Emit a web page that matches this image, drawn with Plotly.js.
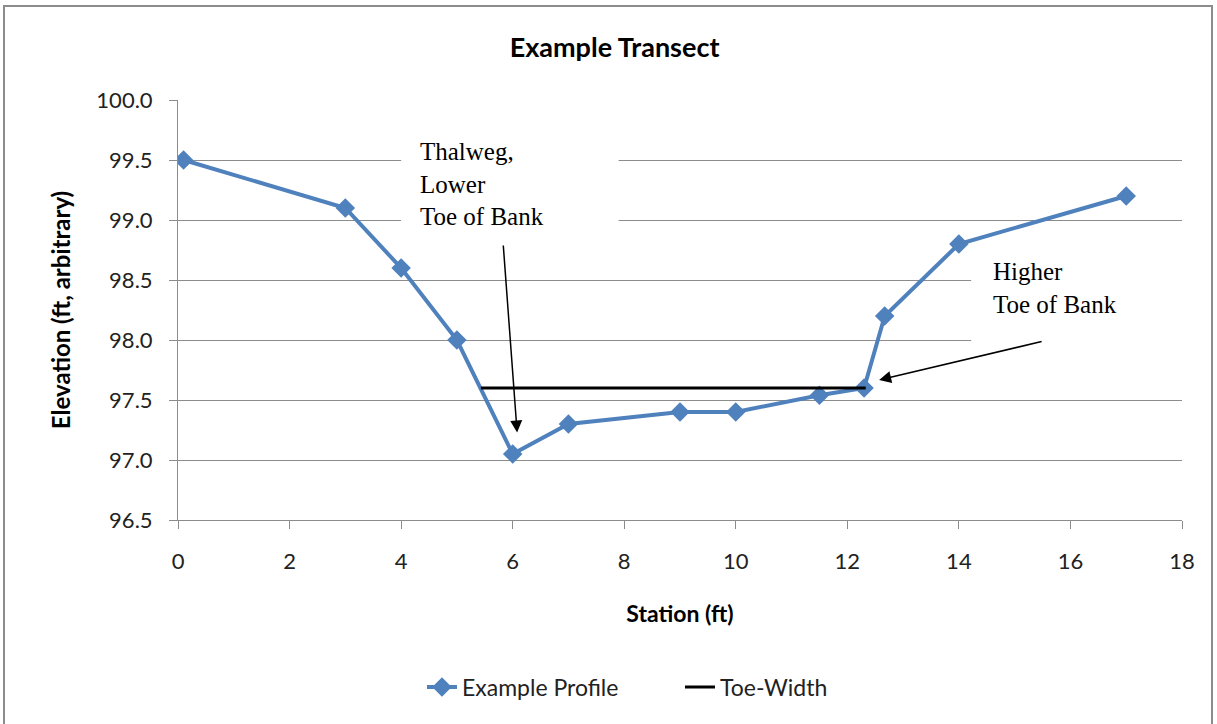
<!DOCTYPE html>
<html>
<head>
<meta charset="utf-8">
<script src="https://cdn.plot.ly/plotly-3.0.1.min.js"></script>
<style>
html,body{margin:0;padding:0;background:#fff;}
#wrap{position:relative;width:1217px;height:724px;overflow:hidden;}
#chart{width:1217px;height:724px;}
#frame{position:absolute;left:3px;top:5px;width:1206px;height:740px;border:2px solid #8c8c8c;pointer-events:none;}
</style>
</head>
<body>
<div id="wrap"><div id="chart"></div><div id="frame"></div></div>
<script>
// Data
const station   = [0.1, 3, 4, 5, 6, 7, 9, 10, 11.5, 12.3, 12.67, 14, 17];
const elevation = [99.5, 99.1, 98.6, 98.0, 97.05, 97.3, 97.4, 97.4, 97.54, 97.6, 98.2, 98.8, 99.2];
const toeStation   = [5.43, 12.33];
const toeElevation = [97.6, 97.6];
const xTicks = [0, 2, 4, 6, 8, 10, 12, 14, 16, 18];
const yTicks = [96.5, 97.0, 97.5, 98.0, 98.5, 99.0, 99.5, 100.0];

const sans = 'Lato, "Open Sans", sans-serif';
const serif = '"Liberation Serif", "Times New Roman", serif';

const traces = [
  {
    x: station, y: elevation, name: 'Example Profile', type: 'scatter', mode: 'lines+markers',
    line: {color: '#4F81BD', width: 4},
    marker: {symbol: 'diamond', size: 15, color: '#4F81BD'}
  },
  {
    x: toeStation, y: toeElevation, name: 'Toe-Width', type: 'scatter', mode: 'lines',
    line: {color: '#000000', width: 3}
  }
];

const layout = {
  width: 1217, height: 724,
  margin: {l: 178, r: 35, t: 100, b: 204},
  paper_bgcolor: '#fff', plot_bgcolor: '#fff',
  showlegend: true,
  title: {text: '<b>Example Transect</b>', font: {family: sans, size: 27, color: '#000'}, x: 0.505, xanchor: 'center', y: 0.934, yanchor: 'middle'},
  xaxis: {
    range: [0, 18], tickvals: xTicks, ticktext: xTicks.map(String),
    showgrid: false, zeroline: false, showline: true, linecolor: '#8c8c8c', linewidth: 1,
    ticks: 'outside', ticklen: 8, tickcolor: '#8c8c8c', ticklabelstandoff: 14,
    tickfont: {family: sans, size: 22, color: '#222'},
    title: {text: '<b>Station (ft)</b>', font: {family: sans, size: 23, color: '#000'}, standoff: 32}
  },
  yaxis: {
    range: [96.5, 100.0], tickvals: yTicks, ticktext: yTicks.map(v => v.toFixed(1)),
    showgrid: true, gridcolor: '#8c8c8c', gridwidth: 1, zeroline: false,
    showline: true, linecolor: '#8c8c8c', linewidth: 1,
    ticks: 'outside', ticklen: 8, tickcolor: '#8c8c8c', ticklabelstandoff: 12,
    tickfont: {family: sans, size: 22, color: '#222'},
    title: {text: '<b>Elevation (ft, arbitrary)</b>', font: {family: sans, size: 24, color: '#000'}, standoff: 18}
  },
  legend: {
    orientation: 'h', x: 0.243, xanchor: 'left', y: -0.398, yanchor: 'middle',
    entrywidth: 213, entrywidthmode: 'pixels',
    font: {family: sans, size: 23, color: '#222'}, bgcolor: 'rgba(0,0,0,0)'
  },
  shapes: [
    {type: 'rect', xref: 'x', yref: 'y', x0: 4.0, x1: 7.9, y0: 98.875, y1: 99.75, fillcolor: '#fff', line: {width: 0}, layer: 'between'},
    {type: 'rect', xref: 'x', yref: 'y', x0: 14.22, x1: 18.0, y0: 97.9, y1: 98.875, fillcolor: '#fff', line: {width: 0}, layer: 'between'}
  ],
  annotations: [
    {xref: 'x', yref: 'y', x: 4.3, y: 99.7, xanchor: 'left', yanchor: 'top', align: 'left', showarrow: false,
     text: 'Thalweg,<br>Lower<br>Toe of Bank', font: {family: serif, size: 25, color: '#000'}},
    {xref: 'x', yref: 'y', x: 14.58, y: 98.7, xanchor: 'left', yanchor: 'top', align: 'left', showarrow: false,
     text: 'Higher<br>Toe of Bank', font: {family: serif, size: 25, color: '#000'}},
    {xref: 'x', yref: 'y', axref: 'x', ayref: 'y', x: 6.08, y: 97.23, ax: 5.83, ay: 98.8, text: '', showarrow: true,
     arrowhead: 2, arrowsize: 1.6, arrowwidth: 1.5, arrowcolor: '#000'},
    {xref: 'x', yref: 'y', axref: 'x', ayref: 'y', x: 12.57, y: 97.667, ax: 15.51, ay: 97.99, text: '', showarrow: true,
     arrowhead: 2, arrowsize: 1.6, arrowwidth: 1.5, arrowcolor: '#000'}
  ]
};

Plotly.newPlot('chart', traces, layout, {displayModeBar: false, staticPlot: true});
</script>
</body>
</html>
